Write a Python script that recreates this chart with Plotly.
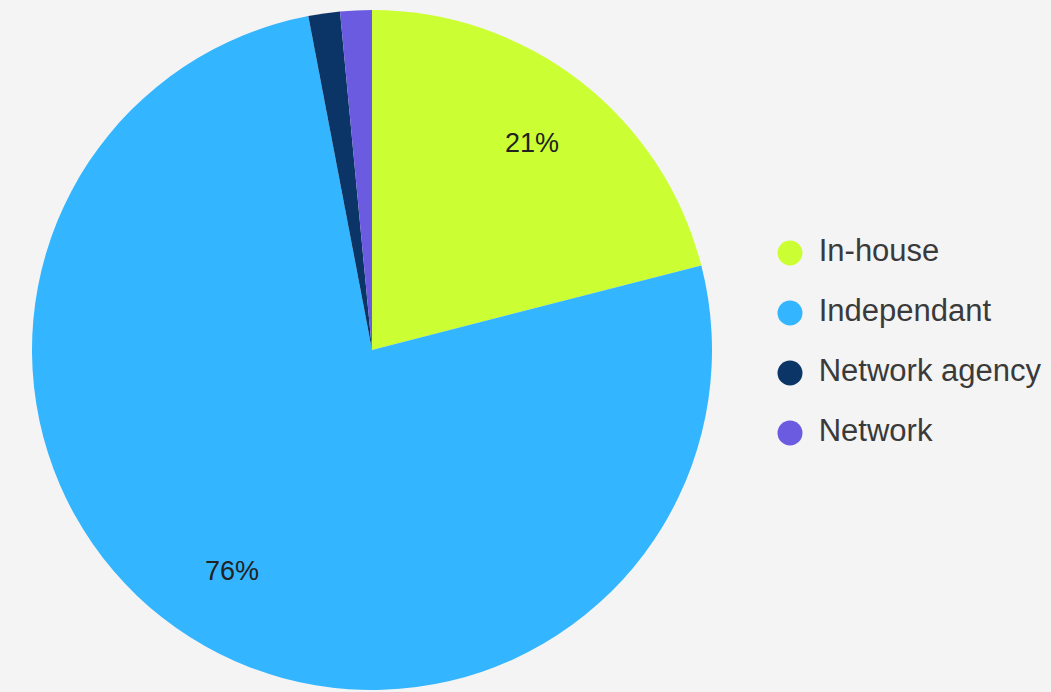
import math
import plotly.graph_objects as go

# Share of respondents by type of organisation
labels = ["In-house", "Independant", "Network agency", "Network"]
values = [21, 76, 1.5, 1.5]
colors = ["#ccff33", "#33b5ff", "#0b3566", "#6a5be0"]
show_label = [True, True, False, False]

W, H = 1051, 692
BG = "#f4f4f4"
TEXT = "#3a3a3a"
FONT = "Liberation Sans, Arial, sans-serif"

# Pie geometry in pixels
CX, CY, R = 372, 350, 340

fig = go.Figure()

fig.add_trace(go.Pie(
    labels=labels,
    values=values,
    sort=False,
    direction="clockwise",
    rotation=0,
    marker=dict(colors=colors, line=dict(width=0)),
    textinfo="none",
    domain=dict(x=[(CX - R) / W, (CX + R) / W],
                y=[(H - CY - R) / H, (H - CY + R) / H]),
    showlegend=False,
    hoverinfo="label+percent",
))

# Percentage labels placed along each slice's bisector
total = sum(values)
start = 0.0
for lab, val, show in zip(labels, values, show_label):
    mid = (start + val / 2) / total * 2 * math.pi
    start += val
    if not show:
        continue
    r = 0.77 * R
    px = CX + r * math.sin(mid)
    py = CY - r * math.cos(mid)
    fig.add_annotation(
        x=px / W, y=(H - py) / H, xref="paper", yref="paper",
        text=f"{round(val / total * 100)}%", showarrow=False,
        xanchor="center", yanchor="middle",
        font=dict(family=FONT, size=27, color="#222222"),
    )

# Legend: coloured dots with their labels beside them
fig.add_trace(go.Scatter(
    x=[0] * len(labels),
    y=labels,
    mode="markers",
    marker=dict(size=25, color=colors, symbol="circle", line=dict(width=0)),
    xaxis="x", yaxis="y",
    showlegend=False,
    hoverinfo="skip",
    cliponaxis=False,
))
fig.add_trace(go.Scatter(
    x=[0.11] * len(labels),
    y=labels,
    mode="text",
    text=labels,
    textposition="middle right",
    textfont=dict(family=FONT, size=31, color=TEXT),
    xaxis="x", yaxis="y",
    showlegend=False,
    hoverinfo="skip",
    cliponaxis=False,
))

fig.update_layout(
    width=W, height=H,
    margin=dict(l=0, r=0, t=0, b=0),
    paper_bgcolor=BG,
    plot_bgcolor="rgba(0,0,0,0)",
    xaxis=dict(domain=[790 / W, 1], range=[0, 1], visible=False, fixedrange=True),
    yaxis=dict(domain=[(H - 463) / H, (H - 223) / H], type="category",
               range=[3.5, -0.5], visible=False, fixedrange=True),
)

fig.write_html("out.html")
